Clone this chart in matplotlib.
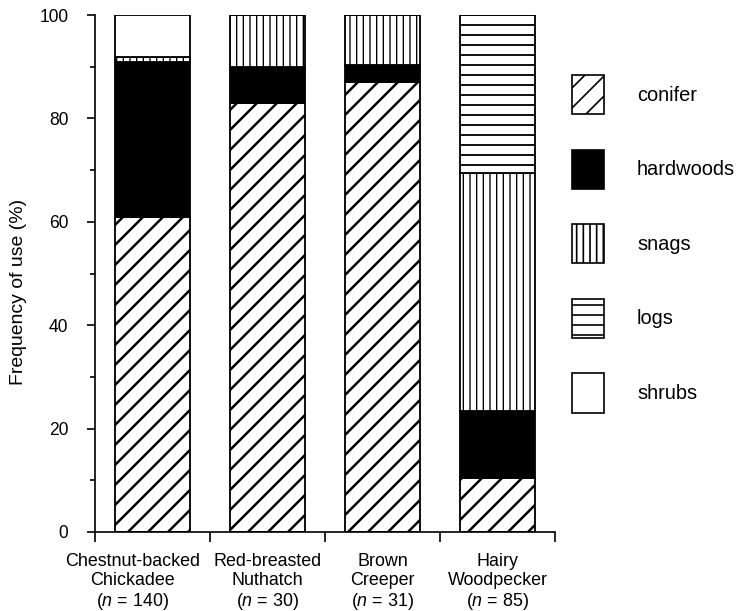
import matplotlib
matplotlib.use('Agg')
import matplotlib.pyplot as plt
from matplotlib.patches import Patch
from matplotlib.transforms import offset_copy
import numpy as np

plt.rcParams['font.family'] = ['Liberation Sans', 'DejaVu Sans']
plt.rcParams['mathtext.fontset'] = 'custom'
plt.rcParams['mathtext.rm'] = 'Liberation Sans'
plt.rcParams['mathtext.it'] = 'Liberation Sans:italic'
plt.rcParams['hatch.color'] = 'black'

# data
species = ['Chestnut-backed\nChickadee\n($\\mathit{n}$ = 140)',
           'Red-breasted\nNuthatch\n($\\mathit{n}$ = 30)',
           'Brown\nCreeper\n($\\mathit{n}$ = 31)',
           'Hairy\nWoodpecker\n($\\mathit{n}$ = 85)']
conifer = [61.0, 83.0, 87.0, 10.5]
hardwoods = [30.0, 7.0, 3.3, 13.0]
snags = [0.8, 10.0, 9.7, 46.0]
logs = [0.0, 0.0, 0.0, 30.5]
shrubs = [8.2, 0.0, 0.0, 0.0]
yticks = [0, 20, 40, 60, 80, 100]

layers = [('conifer', conifer, 'white', '//', 1.5),
          ('hardwoods', hardwoods, 'black', None, 1.0),
          ('snags', snags, 'white', '|||', 0.8),
          ('logs', logs, 'white', '--', 1.1),
          ('shrubs', shrubs, 'white', None, 1.0)]

dpi = 120
fig = plt.figure(figsize=(745 / dpi, 611 / dpi), dpi=dpi)
ax = fig.add_axes([95 / 745, 1 - 532 / 611, (555 - 95) / 745, (532 - 15) / 611])

x = np.arange(len(species))
bottom = np.zeros(len(species))
handles = []
for name, vals, fc, hatch, hlw in layers:
    vals = np.array(vals)
    bars = ax.bar(x, vals, 0.65, bottom=bottom, color=fc, edgecolor='black',
                  linewidth=1.1, hatch=hatch)
    h = Patch(facecolor=fc, edgecolor='black', linewidth=1.0, hatch=hatch, label=name)
    for p in list(bars) + [h]:
        if hatch and hasattr(p, 'set_hatch_linewidth'):
            p.set_hatch_linewidth(hlw)
    handles.append(h)
    bottom = bottom + vals

ax.set_xlim(-0.5, 3.5)
ax.set_ylim(0, 100)
ax.spines['top'].set_visible(False)
ax.spines['right'].set_visible(False)
ax.spines['left'].set_linewidth(1.0)
ax.spines['bottom'].set_linewidth(1.0)

ax.set_yticks(yticks)
ax.set_yticks(np.arange(10, 100, 20), minor=True)
ax.tick_params(axis='y', which='major', length=5, width=1, pad=11, labelsize=10.5)
ax.tick_params(axis='y', which='minor', length=3, width=1)

ax.set_xticks(np.arange(-0.5, 4, 1))
ax.set_xticklabels([])
ax.tick_params(axis='x', which='major', length=6, width=1)

# category labels under the bars (first one sits a little left, as in the original)
shifts = [-20, 0, 0, 0]
for xi, lab, dx in zip(x, species, shifts):
    tr = offset_copy(ax.get_xaxis_transform(), fig=fig, x=dx, y=-21, units='dots')
    ax.text(xi, 0, lab, transform=tr, ha='center', va='top', fontsize=10.7,
            linespacing=1.15)

ax.set_ylabel('Frequency of use (%)', fontsize=11.6)
ax.yaxis.set_label_coords(-0.148, 0.464)

fig.legend(handles=handles, loc='upper left', bbox_to_anchor=(572 / 745, 1 - 75 / 611),
           frameon=False, fontsize=12, handlelength=1.6, handleheight=2.65,
           handletextpad=1.65, labelspacing=1.76, borderpad=0, borderaxespad=0)

fig.savefig('out.png', dpi=dpi)
